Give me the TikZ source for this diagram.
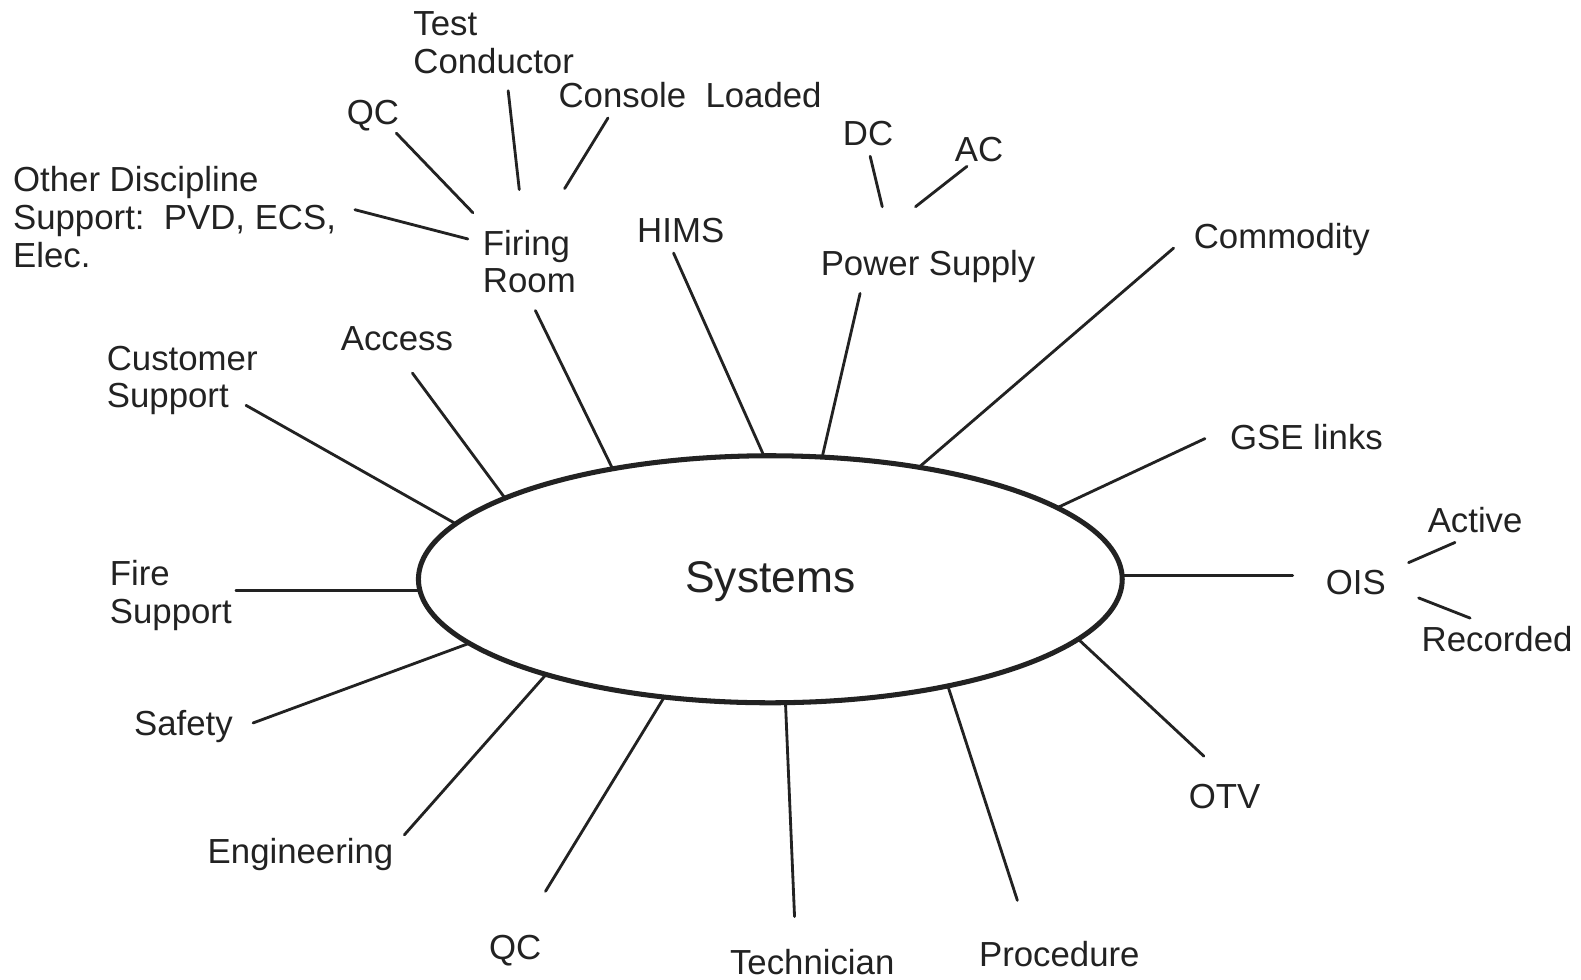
\documentclass[tikz,border=0pt]{standalone}
\usepackage{fontspec}
\setmainfont{Liberation Sans}
\usetikzlibrary{shapes.geometric}
\definecolor{ink}{HTML}{222222}
% stacked label lines, aligned on the first line's baseline
\newcommand{\labelrows}[1]{\begin{tabular}[t]{@{}l@{}}#1\end{tabular}}

\begin{document}
\begin{tikzpicture}[x=1pt,y=-1pt,
  lbl/.style={anchor=base west, inner sep=0pt, outer sep=0pt, text=ink,
              font=\fontsize{34.5}{37.5}\selectfont},
  link/.style={draw=ink, line width=2.8pt, line cap=round},
  hub/.style={ellipse, draw=ink, line width=5pt, minimum width=698pt,
              minimum height=245pt, inner sep=0pt, outer sep=0pt, text=ink,
              text height=36pt, text depth=9pt,
              font=\fontsize{44}{50}\selectfont}]
\useasboundingbox[fill=white] (0,0) rectangle (1568,971);

% central system
\node[hub] (sys) at (764,574.5) {Systems};

% labels
\node[lbl] (test)        at (410,35)  {\labelrows{Test\\Conductor}};
\node[lbl] (qcfr)        at (344,123) {QC};
\node[lbl] (console)     at (554,107) {Console\ \ Loaded};
\node[lbl] (other)       at (13,190)  {\labelrows{Other Discipline\\Support:\ \ PVD, ECS,\\Elec.}};
\node[lbl] (firing)      at (479,253) {\labelrows{Firing\\Room}};
\node[lbl] (hims)        at (632,241) {HIMS};
\node[lbl] (dc)          at (836,144) {DC};
\node[lbl] (ac)          at (947,160) {AC};
\node[lbl] (power)       at (814,273) {Power Supply};
\node[lbl] (commodity)   at (1184,246) {Commodity};
\node[lbl] (gse)         at (1220,446) {GSE links};
\node[lbl] (active)      at (1416,528) {Active};
\node[lbl] (ois)         at (1315,590) {OIS};
\node[lbl] (recorded)    at (1410,646) {Recorded};
\node[lbl] (otv)         at (1179,802) {OTV};
\node[lbl] (procedure)   at (971,959) {Procedure};
\node[lbl] (technician)  at (724,966) {Technician};
\node[lbl] (qc)          at (485,952) {QC};
\node[lbl] (engineering) at (206,856) {Engineering};
\node[lbl] (safety)      at (133,729) {Safety};
\node[lbl] (fire)        at (109,581) {\labelrows{Fire\\Support}};
\node[lbl] (customer)    at (106,367) {\labelrows{Customer\\Support}};
\node[lbl] (access)      at (338,348) {Access};

% free ends of the spokes
\coordinate (e-customer)    at (244,402);
\coordinate (e-access)      at (409,370);
\coordinate (e-firing)      at (531,308);
\coordinate (e-hims)        at (668,251);
\coordinate (e-power)       at (853,291);
\coordinate (e-commodity)   at (1164,246);
\coordinate (e-gse)         at (1195,435);
\coordinate (e-ois)         at (1282,571);
\coordinate (e-otv)         at (1194,750);
\coordinate (e-procedure)   at (1009,893);
\coordinate (e-technician)  at (788,909);
\coordinate (e-qc)          at (541,884);
\coordinate (e-engineering) at (401,828);
\coordinate (e-safety)      at (251,717);
\coordinate (e-fire)        at (234,586);

% spokes from the ellipse
\draw[link] (sys.170.2) -- (e-customer);
\draw[link] (sys.163.3) -- (e-access);
\draw[link] (sys.145.0) -- (e-firing);
\draw[link] (sys.93.3)  -- (e-hims);
\draw[link] (sys.67.2)  -- (e-power);
\draw[link] (sys.37.9)  -- (e-commodity);
\draw[link] (sys.14.55) -- (e-gse);
\draw[link] (e-ois -| sys.east) -- (e-ois);
\draw[link] (sys.-11.7) -- (e-otv);
\draw[link] (sys.-31.9) -- (e-procedure);
\draw[link] (sys.-83.6) -- (e-technician);
\draw[link] (sys.-132.0) -- (e-qc);
\draw[link] (sys.203.2) -- (e-engineering);
\draw[link] (sys.192.2) -- (e-safety);
\draw[link] (e-fire -| sys.west) -- (e-fire);

% secondary branches around the Firing Room
\coordinate (fr-qc-a) at (393,132);  \coordinate (fr-qc-b) at (469,211);
\coordinate (fr-tc-a) at (504,90);   \coordinate (fr-tc-b) at (515,188);
\coordinate (fr-cl-a) at (603,117);  \coordinate (fr-cl-b) at (560,187);
\coordinate (fr-od-a) at (352,208);  \coordinate (fr-od-b) at (464,237);
\draw[link] (fr-qc-a) -- (fr-qc-b);
\draw[link] (fr-tc-a) -- (fr-tc-b);
\draw[link] (fr-cl-a) -- (fr-cl-b);
\draw[link] (fr-od-a) -- (fr-od-b);

% power supply branches
\coordinate (ps-dc-a) at (863,155);  \coordinate (ps-dc-b) at (875,205);
\coordinate (ps-ac-a) at (959,165);  \coordinate (ps-ac-b) at (908,205);
\draw[link] (ps-dc-a) -- (ps-dc-b);
\draw[link] (ps-ac-a) -- (ps-ac-b);

% OIS branches
\coordinate (ois-a-a) at (1397,558); \coordinate (ois-a-b) at (1443,538);
\coordinate (ois-r-a) at (1407,593); \coordinate (ois-r-b) at (1458,613);
\draw[link] (ois-a-a) -- (ois-a-b);
\draw[link] (ois-r-a) -- (ois-r-b);
\end{tikzpicture}
\end{document}
